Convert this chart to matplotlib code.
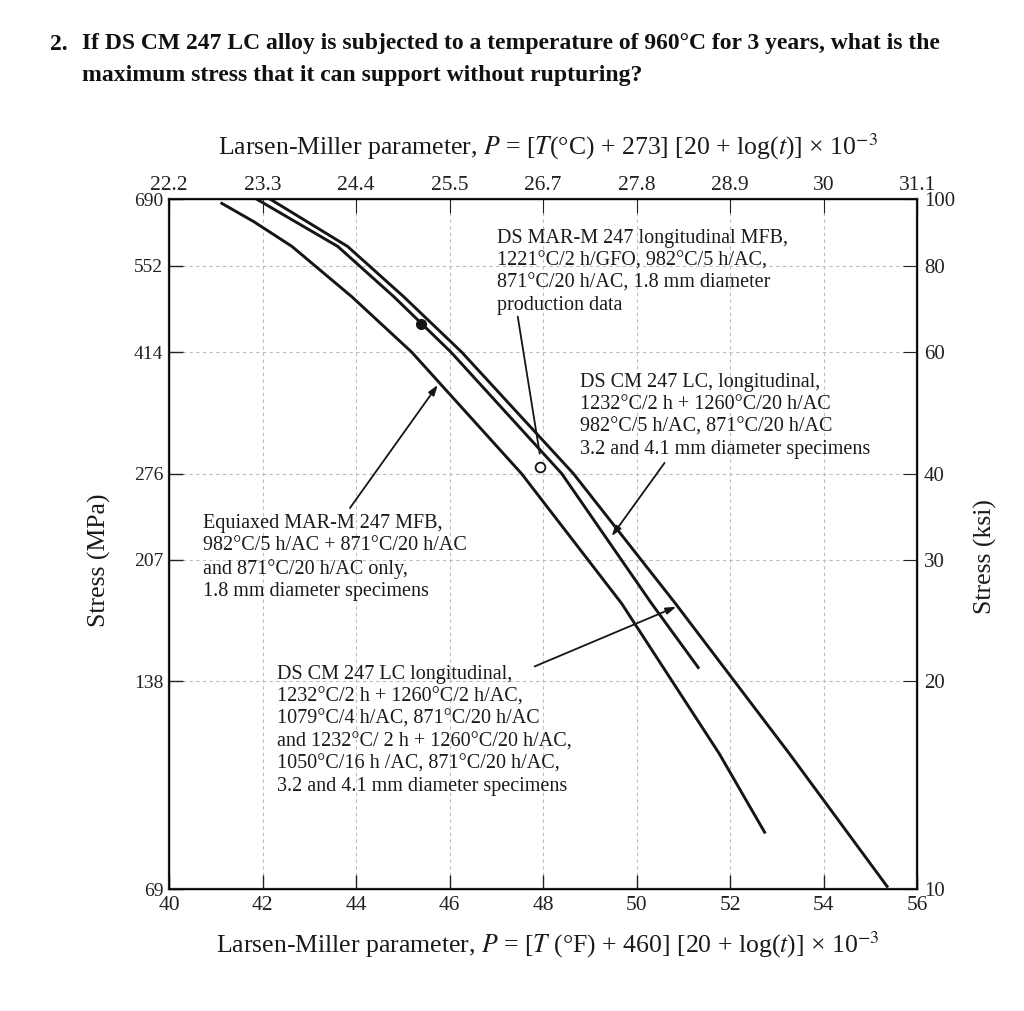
import matplotlib
matplotlib.use("Agg")
import matplotlib.pyplot as plt
from matplotlib.ticker import FixedLocator, NullLocator, FixedFormatter

plt.rcParams['font.family'] = ['Liberation Serif', 'DejaVu Serif']
plt.rcParams['mathtext.fontset'] = 'stix'

# ---------------- data ----------------
lmp_f_ticks = [40, 42, 44, 46, 48, 50, 52, 54, 56]
lmp_c_labels = ['22.2', '23.3', '24.4', '25.5', '26.7', '27.8', '28.9', '30', '31.1']
mpa_ticks = [69, 138, 207, 276, 414, 552, 690]
ksi_ticks = [10, 20, 30, 40, 60, 80, 100]

# Equiaxed MAR-M 247 MFB
equiax_P = [41.13, 41.81, 42.63, 43.91, 45.19, 47.54, 49.68, 51.77, 52.74]
equiax_S = [680, 640, 589, 498, 414, 276, 179, 108.4, 83.4]
# DS CM 247 LC (1232/2h + 1260/20h ...) - short curve
dscm20_P = [41.87, 43.61, 44.81, 46.03, 48.40, 50.32, 51.32]
dscm20_S = [690, 589, 498, 414, 276, 179, 144.5]
# DS CM 247 LC (long curve)
dscm_P = [42.16, 43.82, 45.02, 46.26, 48.65, 50.83, 53.27, 55.36]
dscm_S = [690, 589, 498, 414, 276, 179, 108.4, 69.6]
# single data markers
filled_pt = (45.4, 455)
open_pt = (47.93, 282)

fig = plt.figure(figsize=(10.24, 10.11), dpi=100)
W, H = 1024, 1011
ax = fig.add_axes([169 / W, 1 - 889 / H, (917 - 169) / W, (889 - 199) / H])

ax.set_xlim(40, 56)
ax.set_yscale('log')
ax.set_ylim(69, 690)

ax.xaxis.set_major_locator(FixedLocator(lmp_f_ticks))
ax.yaxis.set_major_locator(FixedLocator(mpa_ticks))
ax.yaxis.set_minor_locator(NullLocator())
ax.yaxis.set_major_formatter(FixedFormatter([str(v) for v in mpa_ticks]))
ax.tick_params(axis='both', direction='in', length=10, width=1.0,
               colors='#222222', pad=4)
ax.tick_params(axis='y', labelsize=14)
ax.tick_params(axis='x', pad=5, labelsize=15.5)

# grid
for v in lmp_f_ticks[1:-1]:
    ax.axvline(v, color='#bdbdbd', lw=0.8, ls=(0, (3, 3)), zorder=0)
for v in mpa_ticks[1:-1]:
    ax.axhline(v, color='#bdbdbd', lw=0.8, ls=(0, (3, 3)), zorder=0)

for s in ax.spines.values():
    s.set_linewidth(1.6)
    s.set_color('#222222')

# top axis (Celsius-based LMP)
axt = ax.twiny()
axt.set_xlim(ax.get_xlim())
axt.xaxis.set_major_locator(FixedLocator(lmp_f_ticks))
axt.xaxis.set_major_formatter(FixedFormatter(lmp_c_labels))
axt.tick_params(axis='x', direction='in', length=10, labelsize=15.5, colors='#222222', pad=3)

# right axis (ksi)
axr = ax.twinx()
axr.set_yscale('log')
axr.set_ylim(10, 100)
axr.yaxis.set_major_locator(FixedLocator(ksi_ticks))
axr.yaxis.set_minor_locator(NullLocator())
axr.yaxis.set_major_formatter(FixedFormatter([str(v) for v in ksi_ticks]))
axr.tick_params(axis='y', direction='in', length=10, labelsize=15, colors='#222222', pad=5)

# curves
lc = '#151515'
ax.plot(equiax_P, equiax_S, color=lc, lw=2.1, solid_joinstyle='round', zorder=3)
ax.plot(dscm20_P, dscm20_S, color=lc, lw=2.1, solid_joinstyle='round', zorder=3)
ax.plot(dscm_P, dscm_S, color=lc, lw=2.1, solid_joinstyle='round', zorder=3)
ax.plot([filled_pt[0]], [filled_pt[1]], marker='o', ms=7, color=lc, zorder=4)
ax.plot([open_pt[0]], [open_pt[1]], marker='o', ms=7, mfc='white', mec=lc, mew=1.3, zorder=4)

# pointers
arrow_kw = dict(arrowstyle='-|>,head_length=0.6,head_width=0.2', color=lc, lw=1.3,
                shrinkA=0, shrinkB=0)
ax.annotate('', xy=(45.75, 371), xytext=(43.87, 246), arrowprops=arrow_kw, zorder=5)
ax.annotate('', xy=(49.47, 224), xytext=(50.60, 286), arrowprops=arrow_kw, zorder=5)
ax.annotate('', xy=(50.85, 177), xytext=(47.82, 145), arrowprops=arrow_kw, zorder=5)
ax.annotate('', xy=(47.93, 295), xytext=(47.46, 466),
            arrowprops=dict(arrowstyle='-', color=lc, lw=1.3, shrinkA=0, shrinkB=0), zorder=5)

# annotation texts
def ftext(px, py, s, **kw):
    fig.text(px / W, 1 - py / H, s, **kw)

ann_kw = dict(fontsize=14.5, color='#1a1a1a', va='top', ha='left', linespacing=1.24)
ftext(497, 229,
      "DS MAR-M 247 longitudinal MFB,\n1221°C/2 h/GFO, 982°C/5 h/AC,\n"
      "871°C/20 h/AC, 1.8 mm diameter\nproduction data", **ann_kw)
ftext(580, 373,
      "DS CM 247 LC, longitudinal,\n1232°C/2 h + 1260°C/20 h/AC\n"
      "982°C/5 h/AC, 871°C/20 h/AC\n3.2 and 4.1 mm diameter specimens", **ann_kw)
ftext(203, 514,
      "Equiaxed MAR-M 247 MFB,\n982°C/5 h/AC + 871°C/20 h/AC\n"
      "and 871°C/20 h/AC only,\n1.8 mm diameter specimens", **ann_kw)
ftext(277, 665,
      "DS CM 247 LC longitudinal,\n1232°C/2 h + 1260°C/2 h/AC,\n"
      "1079°C/4 h/AC, 871°C/20 h/AC\nand 1232°C/ 2 h + 1260°C/20 h/AC,\n"
      "1050°C/16 h /AC, 871°C/20 h/AC,\n3.2 and 4.1 mm diameter specimens", **ann_kw)

# axis titles
lab_kw = dict(fontsize=18.5, color='#1a1a1a', ha='center', va='center')
ftext(548, 147, r"Larsen-Miller parameter, $P$ = [$T$(°C) + 273] [20 + log($t$)] × 10$^{-3}$", **lab_kw)
ftext(548, 945, r"Larsen-Miller parameter, $P$ = [$T$ (°F) + 460] [20 + log($t$)] × 10$^{-3}$", **lab_kw)
ftext(99, 560, "Stress (MPa)", rotation=90, **lab_kw)
ftext(985, 557, "Stress (ksi)", rotation=90, **lab_kw)

# question text
q_kw = dict(fontsize=17, color='#111111', va='center', ha='left', fontweight='bold')
ftext(50, 44, "2.", **q_kw)
ftext(82, 44, "If DS CM 247 LC alloy is subjected to a temperature of 960°C for 3 years, what is the", **q_kw)
ftext(82, 75, "maximum stress that it can support without rupturing?", **q_kw)

fig.savefig('out.png', dpi=100, facecolor='white')
